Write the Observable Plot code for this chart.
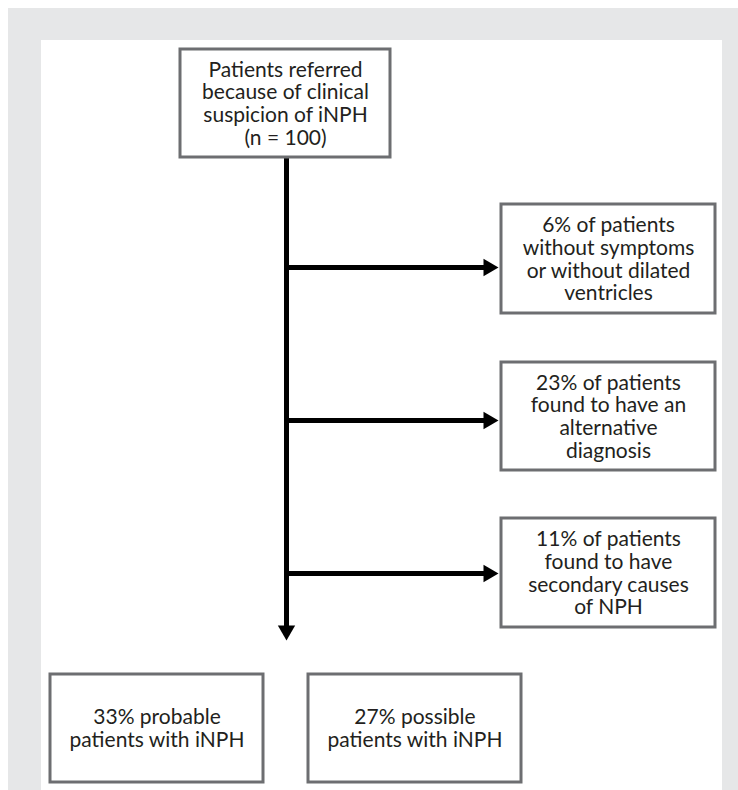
<!DOCTYPE html>
<html><head><meta charset="utf-8">
<script src="https://cdn.jsdelivr.net/npm/d3@7"></script>
<script src="https://cdn.jsdelivr.net/npm/@observablehq/plot@0.6"></script>
<style>html,body{margin:0;padding:0;background:#fff}</style>
</head><body><div id="chart"></div>
<script>
// Flowchart content
const nodeLabels = [
  "Patients referred\nbecause of clinical\nsuspicion of iNPH\n(n = 100)",
  "6% of patients\nwithout symptoms\nor without dilated\nventricles",
  "23% of patients\nfound to have an\nalternative\ndiagnosis",
  "11% of patients\nfound to have\nsecondary causes\nof NPH",
  "33% probable\npatients with iNPH",
  "27% possible\npatients with iNPH"
];
const nodePercents = [100, 6, 23, 11, 33, 27];

// Layout (pixel units of the diagram)
const nodeX1 = [180, 501, 501, 501, 50, 308];
const nodeX2 = [390, 715, 715, 715, 263, 521];
const nodeY1 = [49, 204, 362, 518, 674, 674];
const nodeY2 = [157, 313, 470, 627, 782, 782];
const trunkX = 286;
const trunkEnd = 640;
const branchY = [267, 420, 573];
const branchEnd = 498;

const W = 738, H = 790;
const nodes = nodeLabels.map((label, i) => ({
  label, pct: nodePercents[i],
  x1: nodeX1[i], x2: nodeX2[i], y1: nodeY1[i], y2: nodeY2[i]
}));
const panels = [
  {x1: 8, x2: W, y1: 8, y2: H, fill: "#e6e7e8"},
  {x1: 41, x2: 722, y1: 40, y2: H, fill: "#ffffff"}
];
const headLen = 15;
const segments = [
  {x1: trunkX, y1: nodeY2[0], x2: trunkX, y2: trunkEnd - headLen + 2},
  ...branchY.map(y => ({x1: trunkX, y1: y, x2: branchEnd - headLen + 2, y2: y}))
];
// equilateral triangle: tip is 2/3 of height from centroid
const tipOff = headLen * 2 / 3;
const heads = [
  {x: trunkX, y: trunkEnd - tipOff, rot: 180},
  ...branchY.map(y => ({x: branchEnd - tipOff, y, rot: 90}))
];
const triR = Math.sqrt((headLen / 3) ** 2 * 3 * Math.sqrt(3) / Math.PI);

const chart = Plot.plot({
  width: W, height: H, margin: 0,
  x: {type: "linear", domain: [0, W], range: [0, W], axis: null},
  y: {type: "linear", domain: [0, H], range: [0, H], axis: null},
  style: {background: "white", fontFamily: "Lato, 'Open Sans', sans-serif"},
  marks: [
    Plot.rect(panels, {x1: "x1", x2: "x2", y1: "y1", y2: "y2", fill: d => d.fill}),
    Plot.link(segments, {x1: "x1", y1: "y1", x2: "x2", y2: "y2", stroke: "#000", strokeWidth: 5}),
    Plot.dot(heads, {x: "x", y: "y", symbol: "triangle", r: triR, fill: "#000", stroke: null, rotate: "rot"}),
    Plot.rect(nodes, {x1: "x1", x2: "x2", y1: "y1", y2: "y2", fill: "white", stroke: "#6d6e71", strokeWidth: 3}),
    Plot.text(nodes, {
      x: d => (d.x1 + d.x2) / 2, y: d => (d.y1 + d.y2) / 2,
      text: "label", fontSize: 21, lineHeight: 1.075, fill: "#231f20"
    })
  ]
});
document.getElementById("chart").appendChild(chart);
</script>
</body></html>
